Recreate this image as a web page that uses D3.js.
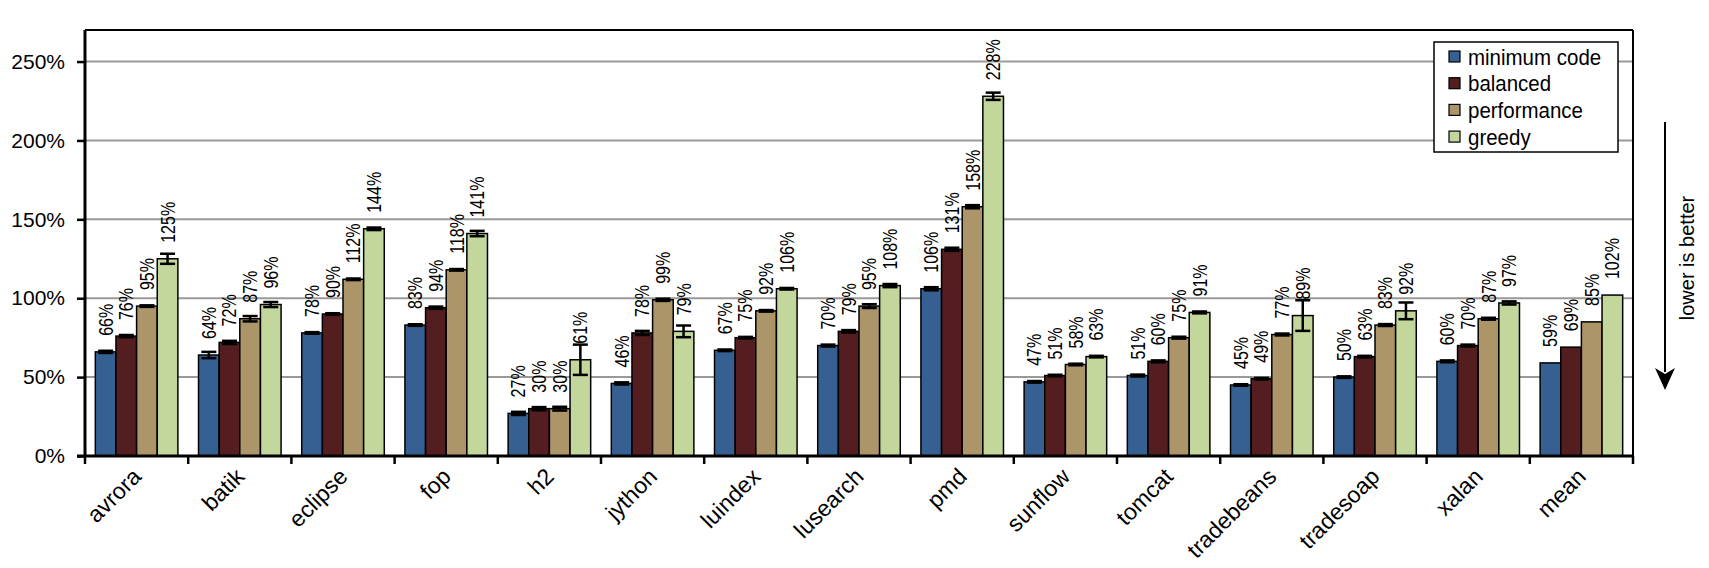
<!DOCTYPE html>
<html><head><meta charset="utf-8">
<script src="https://cdn.jsdelivr.net/npm/d3@7"></script>
<style>
html,body{margin:0;padding:0;background:#fff;}
text{font-family:"Liberation Sans",Arial,sans-serif;fill:#000;}
</style></head>
<body><svg id="chart" width="1709" height="568"></svg>
<script>
const categories = ["avrora","batik","eclipse","fop","h2","jython","luindex","lusearch","pmd","sunflow","tomcat","tradebeans","tradesoap","xalan","mean"];
const seriesNames = ["minimum code","balanced","performance","greedy"];
const minimumCode = [66,64,78,83,27,46,67,70,106,47,51,45,50,60,59];
const balanced    = [76,72,90,94,30,78,75,79,131,51,60,49,63,70,69];
const performance = [95,87,112,118,30,99,92,95,158,58,75,77,83,87,85];
const greedy      = [125,96,144,141,61,79,106,108,228,63,91,89,92,97,102];
const errMinimumCode = [0.7,2.0,0.5,0.5,1.0,0.7,0.5,0.6,1.0,0.5,0.6,0.5,0.5,0.6,0];
const errBalanced    = [0.7,1.0,0.5,0.7,1.0,1.3,0.5,0.8,1.0,0.5,0.6,0.5,0.5,0.6,0];
const errPerformance = [0.5,1.7,0.5,0.5,1.2,0.7,0.5,1.2,1.0,0.5,0.6,0.6,0.6,0.6,0];
const errGreedy      = [3.2,1.6,0.8,1.7,9.6,3.7,0.5,1.0,2.3,0.5,0.6,9.7,5.3,1.0,0];
const yTicks = [0,50,100,150,200,250];
const colors = ["#376092","#541D1F","#AC9569","#C3D69B"];

const values = [minimumCode, balanced, performance, greedy];
const errors = [errMinimumCode, errBalanced, errPerformance, errGreedy];

const svg = d3.select("#chart");
const pLeft = 85, pRight = 1633, pTop = 30, pBottom = 456;

const x0 = d3.scaleBand().domain(categories).range([pLeft, pRight]).paddingInner(0.2).paddingOuter(0.1);
const x1 = d3.scaleBand().domain(seriesNames).range([0, x0.bandwidth()]).padding(0);
const y = d3.scaleLinear().domain([0, 270]).range([pBottom, pTop]);
const color = d3.scaleOrdinal().domain(seriesNames).range(colors);

// gridlines
svg.append("g").selectAll("line").data(yTicks.filter(d => d > 0)).join("line")
  .attr("x1", pLeft).attr("x2", pRight).attr("y1", d => y(d)).attr("y2", d => y(d))
  .attr("stroke", "#999").attr("stroke-width", 2);

// plot border top/right
svg.append("line").attr("x1", pLeft).attr("x2", pRight).attr("y1", pTop).attr("y2", pTop).attr("stroke","#000").attr("stroke-width",2);
svg.append("line").attr("x1", pRight).attr("x2", pRight).attr("y1", pTop).attr("y2", pBottom).attr("stroke","#000").attr("stroke-width",2);

// data
const flat = [];
categories.forEach((c, i) => seriesNames.forEach((s, j) => flat.push({c, s, v: values[j][i], e: errors[j][i]})));

const g = svg.append("g");
g.selectAll("rect").data(flat).join("rect")
  .attr("x", d => x0(d.c) + x1(d.s))
  .attr("y", d => y(d.v))
  .attr("width", x1.bandwidth())
  .attr("height", d => y(0) - y(d.v))
  .attr("fill", d => color(d.s))
  .attr("stroke", "#000").attr("stroke-width", 1.5);

// error bars
const eg = svg.append("g").attr("stroke", "#000").attr("stroke-width", 2.5);
flat.filter(d => d.e > 0).forEach(d => {
  const cx = x0(d.c) + x1(d.s) + x1.bandwidth() / 2;
  const hw = 7.5;
  eg.append("line").attr("x1", cx).attr("x2", cx).attr("y1", y(d.v + d.e)).attr("y2", y(d.v - d.e));
  eg.append("line").attr("x1", cx - hw).attr("x2", cx + hw).attr("y1", y(d.v + d.e)).attr("y2", y(d.v + d.e));
  eg.append("line").attr("x1", cx - hw).attr("x2", cx + hw).attr("y1", y(d.v - d.e)).attr("y2", y(d.v - d.e));
});

// data labels
svg.append("g").selectAll("text").data(flat).join("text")
  .attr("transform", d => `translate(${x0(d.c) + x1(d.s) + x1.bandwidth()/2},${y(d.v) - 16}) rotate(-90) scale(0.8,1)`)
  .attr("dy", "0.35em")
  .attr("font-size", 20)
  .text(d => d.v + "%");

// y axis
const yAxis = d3.axisLeft(y).tickValues(yTicks).tickFormat(d => d + "%").tickSize(8).tickPadding(12);
const ya = svg.append("g").attr("transform", `translate(${pLeft},0)`).call(yAxis);
ya.select(".domain").attr("stroke-width", 3).attr("d", `M0,${pTop}V${pBottom}`);
ya.selectAll(".tick line").attr("stroke-width", 2.5);
ya.selectAll(".tick text").attr("font-size", 21).attr("font-family", '"Liberation Sans",Arial,sans-serif');

// x axis
const step = x0.step();
const xa = svg.append("g");
xa.append("line").attr("x1", pLeft - 8).attr("x2", pRight + 1).attr("y1", pBottom).attr("y2", pBottom).attr("stroke", "#000").attr("stroke-width", 3);
xa.selectAll(".xt").data(d3.range(categories.length + 1)).join("line").attr("class","xt")
  .attr("x1", i => pLeft + i * step).attr("x2", i => pLeft + i * step)
  .attr("y1", pBottom).attr("y2", pBottom + 8).attr("stroke", "#000").attr("stroke-width", 2.5);
xa.selectAll("text").data(categories).join("text")
  .attr("transform", c => `translate(${x0(c) + x0.bandwidth()/2 + 6},${pBottom + 22}) rotate(-45)`)
  .attr("text-anchor", "end")
  .attr("font-size", 23)
  .text(c => c);

// legend
const lg = svg.append("g").attr("transform", "translate(1434,42)");
lg.append("rect").attr("width", 184).attr("height", 110).attr("fill", "#fff").attr("stroke", "#000").attr("stroke-width", 1.5);
seriesNames.forEach((s, j) => {
  const ry = 14.5 + j * 26.7;
  lg.append("rect").attr("x", 15).attr("y", ry - 5.5).attr("width", 11).attr("height", 11)
    .attr("fill", color(s)).attr("stroke", "#000").attr("stroke-width", 1.2);
  lg.append("text").attr("transform", `translate(34,${ry}) scale(1,1.1)`).attr("dy", "0.36em").attr("font-size", 20.5).text(s);
});

// lower is better arrow
svg.append("line").attr("x1", 1665).attr("x2", 1665).attr("y1", 122).attr("y2", 372).attr("stroke","#000").attr("stroke-width",2);
svg.append("path").attr("d","M1655,368 L1665,390 L1675,368 L1665,374 Z").attr("fill","#000");
svg.append("text").attr("transform","translate(1687,258) rotate(-90)").attr("text-anchor","middle").attr("dy","0.35em")
  .attr("font-size", 20).text("lower is better");
</script></body></html>
